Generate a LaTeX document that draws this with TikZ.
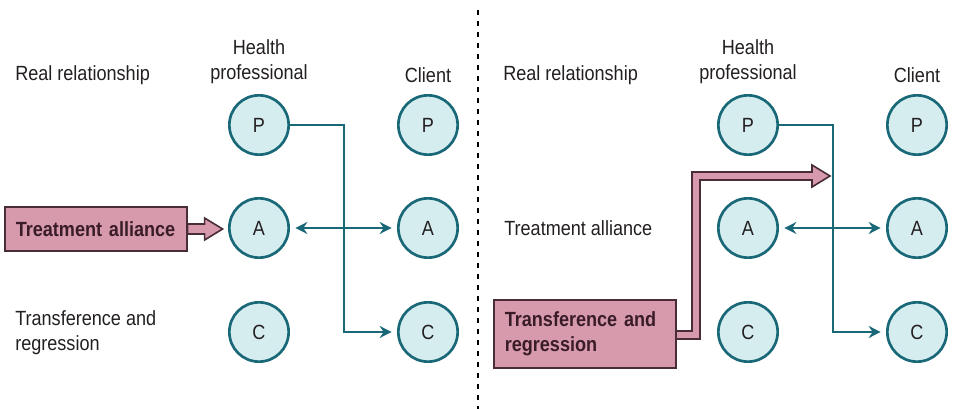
\documentclass[tikz,border=0pt]{standalone}
\usepackage{fontspec}
\setmainfont{Liberation Sans}[FakeStretch=0.88]
\usetikzlibrary{arrows.meta}
\definecolor{tealline}{RGB}{24,104,120}
\definecolor{tealfill}{RGB}{214,237,240}
\definecolor{pinkfill}{RGB}{214,154,172}
\definecolor{pinkline}{RGB}{72,44,56}
\definecolor{pinktext}{RGB}{58,28,40}
\definecolor{labeltext}{RGB}{35,31,32}
\tikzset{
  role/.style={circle, draw=tealline, fill=tealfill, line width=2pt, minimum size=44.5pt, inner sep=0pt, text=labeltext, font=\fontsize{15.4}{18.75}\selectfont},
  caption/.style={text=labeltext, inner sep=0pt, font=\fontsize{15.4}{18.75}\selectfont},
  tagbox/.style={draw=pinkline, fill=pinkfill, line width=1.2pt, text=pinktext, align=left, text width=120pt, inner xsep=8.25pt, inner ysep=0pt, font=\bfseries\fontsize{15.4}{18.75}\selectfont},
  pinkarrow/.style={draw=pinkline, fill=pinkfill, line width=1.2pt, line join=miter},
  link/.style={draw=tealline, line width=2pt, -{Stealth[length=9pt,width=9pt,inset=3pt]}, shorten >=4pt},
  bothlink/.style={link, {Stealth[length=9pt,width=9pt,inset=3pt]}-{Stealth[length=9pt,width=9pt,inset=3pt]}, shorten <=4pt},
  divider/.style={draw=black, line width=2.2pt, dash pattern=on 3.75pt off 4.5pt}
}
\begin{document}
\begin{tikzpicture}[x=0.75pt,y=0.75pt,yscale=-1]
\useasboundingbox (0,0) rectangle (960,409);

% divider
\coordinate (top) at (478,10);
\coordinate (bottom) at (478,409);
\draw[divider] (top) -- (bottom);

%%% left panel
% Text Node
\node[caption, anchor=west] (rr1) at (15,75) {Real relationship};
\node[caption, align=center] (hp1) at (259,62) {Health\\professional};
\node[caption] (cl1) at (428,75) {Client};
\node[caption, anchor=west, align=left] (tr1) at (15,333) {Transference and\\regression};
% Circles
\node[role] (p1) at (259,125) {P};
\node[role] (a1) at (259,228) {A};
\node[role] (c1) at (259,332) {C};
\node[role] (p2) at (428,125) {P};
\node[role] (a2) at (428,228) {A};
\node[role] (c2) at (428,332) {C};
% Box
\node[tagbox, minimum height=33pt, anchor=west] (ta1) at (4,229) {Treatment alliance};
\draw[pinkarrow] (ta1.east) ++(0,-5) -- ++(17,0) -- ++(0,-6) -- ++(18,11) -- ++(-18,11) -- ++(0,-6) -- ++(-17,0) -- cycle;
% Connection
\coordinate (k1) at (344,125);
\draw[link] (p1) -- (k1) |- (c2);
\draw[bothlink] (a1) -- (a2);

%%% right panel
% Text Node
\node[caption, anchor=west] (rr2) at (503,75) {Real relationship};
\node[caption, align=center] (hp2) at (748,62) {Health\\professional};
\node[caption] (cl2) at (917,75) {Client};
\node[caption, anchor=west] (ta2) at (504,228) {Treatment alliance};
% Circles
\node[role] (p3) at (748,125) {P};
\node[role] (a3) at (748,228) {A};
\node[role] (c3) at (748,332) {C};
\node[role] (p4) at (917,125) {P};
\node[role] (a4) at (917,228) {A};
\node[role] (c4) at (917,332) {C};
% Connection
\coordinate (k2) at (833,125);
\draw[link] (p3) -- (k2) |- (c4);
\draw[bothlink] (a3) -- (a4);
% Box
\draw[pinkarrow] (674,331) -- ++(18,0) -- ++(0,-159) -- ++(120,0) -- ++(0,-7) -- ++(18,11) -- ++(-18,11) -- ++(0,-7) -- ++(-112,0) -- ++(0,159) -- ++(-26,0) -- cycle;
\node[tagbox, minimum height=51pt, anchor=west] (tr2) at (493,334) {Transference and\\regression};
\end{tikzpicture}
\end{document}
